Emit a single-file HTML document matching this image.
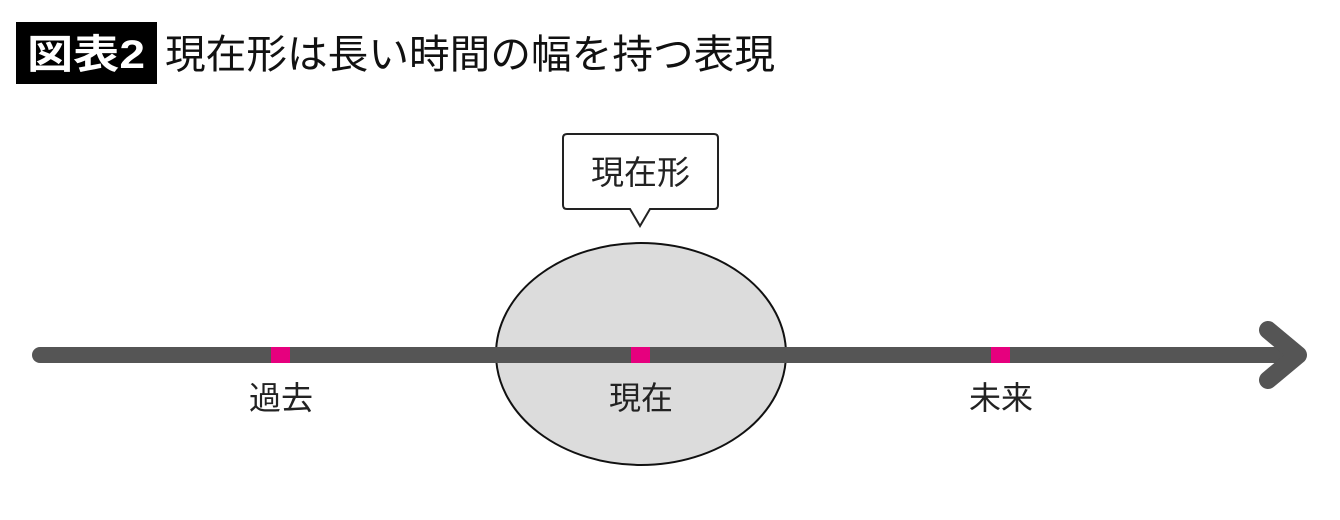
<!DOCTYPE html>
<html><head><meta charset="utf-8"><style>
html,body{margin:0;padding:0;background:#fff;width:1340px;height:520px;overflow:hidden}
svg text{font-family:"Liberation Sans","Noto Sans CJK JP",sans-serif}
</style></head><body>
<svg width="1340" height="520" viewBox="0 0 1340 520" xmlns="http://www.w3.org/2000/svg">
<rect x="16" y="22" width="141" height="62" fill="#000"/>
<text x="86" y="68" font-size="40" fill="#fff" text-anchor="middle" font-weight="bold" textLength="118" lengthAdjust="spacingAndGlyphs">図表2</text>
<text x="165" y="68" font-size="40" fill="#111" textLength="610" lengthAdjust="spacingAndGlyphs">現在形は長い時間の幅を持つ表現</text>
<ellipse cx="641" cy="354" rx="145" ry="111" fill="#dcdcdc" stroke="#111" stroke-width="2"/>
<line x1="40" y1="355" x2="1298" y2="355" stroke="#555" stroke-width="16" stroke-linecap="round"/>
<polyline points="1268,330 1298,355 1268,380" fill="none" stroke="#555" stroke-width="18" stroke-linecap="round" stroke-linejoin="round"/>
<rect x="271" y="347" width="19" height="16" fill="#e6007e"/>
<rect x="631" y="347" width="19" height="16" fill="#e6007e"/>
<rect x="991" y="347" width="19" height="16" fill="#e6007e"/>
<path d="M567,134 H714 Q718,134 718,138 V205 Q718,209 714,209 H650 L640,226 L630,209 H567 Q563,209 563,205 V138 Q563,134 567,134 Z" fill="#fff" stroke="#222" stroke-width="2"/>
<text x="640.5" y="184" font-size="33" text-anchor="middle" fill="#222">現在形</text>
<text x="281" y="409" font-size="32" text-anchor="middle" fill="#222">過去</text>
<text x="641" y="409" font-size="32" text-anchor="middle" fill="#222">現在</text>
<text x="1001" y="409" font-size="32" text-anchor="middle" fill="#222">未来</text>
</svg>
</body></html>
